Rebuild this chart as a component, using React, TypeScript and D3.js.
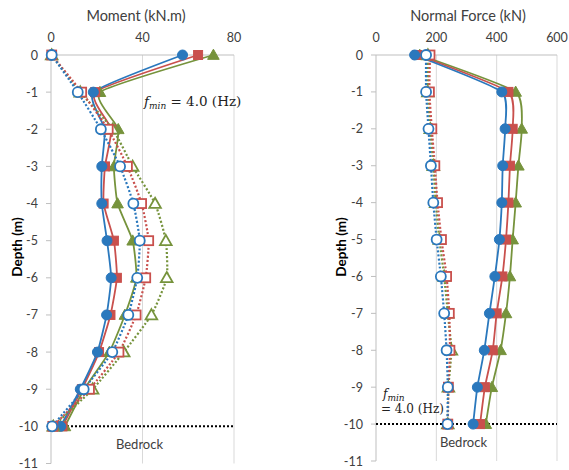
import React from "react";
import * as d3 from "d3";

// Depth of each measurement point (m)
const depths = [0, -1, -2, -3, -4, -5, -6, -7, -8, -9, -10];

// Bending moment (kN.m) along the pile
const momentSolidBlue = [57.5, 18.5, 23.5, 22.2, 22.2, 24.5, 26.3, 24.3, 20.3, 12.8, 4.2];
const momentSolidRed = [64.3, 19.3, 26.3, 23.6, 23.0, 27.5, 28.8, 26.0, 21.0, 13.5, 5.0];
const momentSolidGreen = [71.0, 21.4, 29.4, 27.5, 29.1, 35.7, 37.3, 32.3, 25.5, 14.5, 6.1];
const momentDotBlue = [0.3, 11.7, 21.8, 30.2, 36.0, 38.8, 37.7, 33.8, 26.8, 14.3, 0.5];
const momentDotRed = [0.3, 13.4, 25.0, 33.4, 39.6, 42.7, 41.4, 37.2, 29.7, 16.8, 0.8];
const momentDotGreen = [0.3, 12.8, 27.0, 35.7, 45.5, 50.2, 50.6, 43.9, 31.8, 18.2, 1.0];

// Axial (normal) force (kN) along the pile
const forceSolidBlue = [128, 417, 428, 420, 417, 409, 394, 376, 359, 336, 322];
const forceSolidRed = [137, 439, 453, 444, 439, 431, 419, 400, 387, 361, 345];
const forceSolidGreen = [145, 463, 483, 472, 463, 453, 444, 431, 413, 384, 364];
const forceDotBlue = [166, 166, 174, 182, 190, 201, 215, 226, 234, 238, 237];
const forceDotRed = [179, 177, 185, 195, 204, 217, 234, 243, 245, 240, 238];
const forceDotGreen = [172, 172, 180, 190, 198, 210, 226, 238, 250, 240, 238];

const momentTicks = [0, 40, 80];
const forceTicks = [0, 200, 400, 600];
const depthTicks = [0, -1, -2, -3, -4, -5, -6, -7, -8, -9, -10, -11];

const BLUE = "#2a78bd";
const RED = "#c9504d";
const GREEN = "#76933c";
const FONT = "Lato, 'Open Sans', sans-serif";

type Shape = "circle" | "square" | "triangle";
interface Series {
  values: number[];
  color: string;
  shape: Shape;
  hollow: boolean;
}

function Marker({ x, y, shape, color, hollow }: { x: number; y: number; shape: Shape; color: string; hollow: boolean }) {
  const fill = hollow ? "#fff" : color;
  const sw = hollow ? 1.8 : 1;
  if (shape === "circle") return <circle cx={x} cy={y} r={5} fill={fill} stroke={color} strokeWidth={sw} />;
  if (shape === "square") return <rect x={x - 4.5} y={y - 4.5} width={9} height={9} fill={fill} stroke={color} strokeWidth={sw} />;
  const s = 5.8;
  return (
    <path
      d={`M${x},${y - s} L${x + s},${y + s * 0.75} L${x - s},${y + s * 0.75} Z`}
      fill={fill}
      stroke={color}
      strokeWidth={sw}
    />
  );
}

interface PanelProps {
  title: string;
  left: number;
  right: number;
  top: number;
  bottom: number;
  xMax: number;
  xTicks: number[];
  series: Series[];
  titleX: number;
  depthLabelX: number;
  note: React.ReactNode;
}

function Panel({ title, left, right, top, bottom, xMax, xTicks, series, titleX, depthLabelX, note }: PanelProps) {
  const x = d3.scaleLinear().domain([0, xMax]).range([left, right]);
  const y = d3.scaleLinear().domain([0, -11]).range([top, bottom]);
  const line = d3
    .line<number>()
    .x((v) => x(v))
    .y((_, i) => y(depths[i]))
    .curve(d3.curveCardinal.tension(0.5));

  return (
    <g>
      <text x={titleX} y={21} textAnchor="middle" fontFamily={FONT} fontSize={14.5} fill="#404040">
        {title}
      </text>
      {/* vertical gridlines */}
      {xTicks.slice(1).map((t) => (
        <line key={t} x1={x(t)} x2={x(t)} y1={top} y2={bottom} stroke="#d9d9d9" strokeWidth={1} />
      ))}
      {/* axes */}
      <line x1={left} x2={left} y1={top} y2={bottom} stroke="#bfbfbf" strokeWidth={1} />
      <line x1={left} x2={right} y1={top} y2={top} stroke="#bfbfbf" strokeWidth={1} />
      {xTicks.map((t) => (
        <text key={t} x={x(t)} y={42} textAnchor="middle" fontFamily={FONT} fontSize={12.5} fill="#404040">
          {t}
        </text>
      ))}
      {depthTicks.map((t) => (
        <g key={t}>
          <line x1={left - 5} x2={left} y1={y(t)} y2={y(t)} stroke="#bfbfbf" />
          <text x={left - 13} y={y(t) + 4.5} textAnchor="end" fontFamily={FONT} fontSize={12.5} fill="#404040">
            {t}
          </text>
        </g>
      ))}
      <text
        transform={`translate(${depthLabelX},${247}) rotate(-90)`}
        textAnchor="middle"
        fontFamily={FONT}
        fontSize={13.5}
        fontWeight="bold"
        fill="#000"
      >
        Depth (m)
      </text>
      {/* bedrock level */}
      <line x1={left} x2={right} y1={y(-10)} y2={y(-10)} stroke="#000" strokeWidth={2} strokeDasharray="2 2" />
      <text x={(left + right) / 2 - 3} y={y(-10) + 23} textAnchor="middle" fontFamily={FONT} fontSize={13} fill="#404040">
        Bedrock
      </text>
      {/* series lines */}
      {series.map((s, k) => (
        <path
          key={`l${k}`}
          d={line(s.values) ?? ""}
          fill="none"
          stroke={s.color}
          strokeWidth={s.hollow ? 2.2 : 1.8}
          strokeDasharray={s.hollow ? "2 2" : undefined}
        />
      ))}
      {series.map((s, k) => (
        <g key={`m${k}`}>
          {s.values.map((v, i) => (
            <Marker key={i} x={x(v)} y={y(depths[i])} shape={s.shape} color={s.color} hollow={s.hollow} />
          ))}
        </g>
      ))}
      {note}
    </g>
  );
}

export default function App() {
  const momentSeries: Series[] = [
    { values: momentSolidGreen, color: GREEN, shape: "triangle", hollow: false },
    { values: momentSolidRed, color: RED, shape: "square", hollow: false },
    { values: momentSolidBlue, color: BLUE, shape: "circle", hollow: false },
    { values: momentDotGreen, color: GREEN, shape: "triangle", hollow: true },
    { values: momentDotRed, color: RED, shape: "square", hollow: true },
    { values: momentDotBlue, color: BLUE, shape: "circle", hollow: true },
  ];
  const forceSeries: Series[] = [
    { values: forceSolidGreen, color: GREEN, shape: "triangle", hollow: false },
    { values: forceSolidRed, color: RED, shape: "square", hollow: false },
    { values: forceSolidBlue, color: BLUE, shape: "circle", hollow: false },
    { values: forceDotGreen, color: GREEN, shape: "triangle", hollow: true },
    { values: forceDotRed, color: RED, shape: "square", hollow: true },
    { values: forceDotBlue, color: BLUE, shape: "circle", hollow: true },
  ];
  const serif = "'DejaVu Serif', 'Liberation Serif', serif";

  return (
    <svg
      width={569}
      height={470}
      style={{ position: "absolute", left: 0, top: 0, background: "#fff" }}
    >
      <rect width={569} height={470} fill="#fff" />
      <Panel
        title="Moment (kN.m)"
        left={51}
        right={234}
        top={55}
        bottom={463.5}
        xMax={80}
        xTicks={momentTicks}
        series={momentSeries}
        titleX={136}
        depthLabelX={22}
        note={
          <text x={144} y={106} fontFamily={serif} fontSize={13.5} fill="#222">
            <tspan fontStyle="italic">f</tspan>
            <tspan fontStyle="italic" fontSize={9} dy={3}>min</tspan>
            <tspan dy={-3}> = 4.0 (Hz)</tspan>
          </text>
        }
      />
      <Panel
        title="Normal Force (kN)"
        left={376}
        right={557}
        top={55}
        bottom={461}
        xMax={600}
        xTicks={forceTicks}
        series={forceSeries}
        titleX={468}
        depthLabelX={346}
        note={
          <g fontFamily={serif} fontSize={12} fill="#222">
            <text x={383} y={398}>
              <tspan fontStyle="italic">f</tspan>
              <tspan fontStyle="italic" fontSize={9} dy={3}>min</tspan>
            </text>
            <text x={381} y={413}>= 4.0 (Hz)</text>
          </g>
        }
      />
    </svg>
  );
}
